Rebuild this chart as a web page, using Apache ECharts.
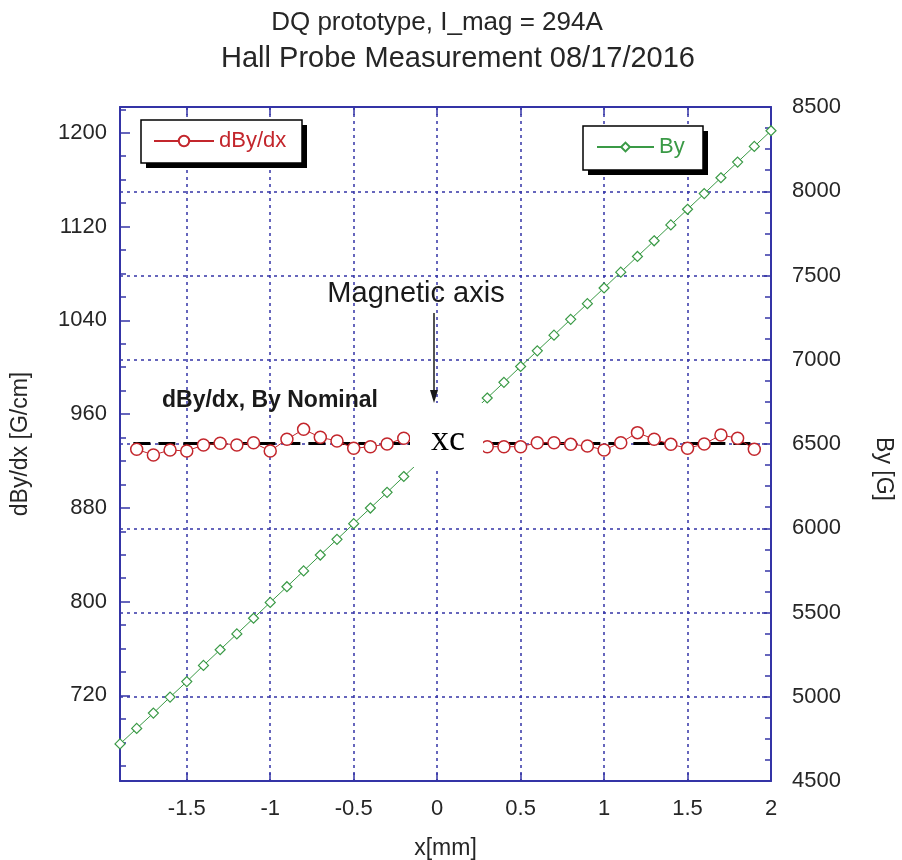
<!DOCTYPE html>
<html><head><meta charset="utf-8">
<script src="https://cdn.jsdelivr.net/npm/echarts@6/dist/echarts.min.js"></script>
<style>html,body{margin:0;padding:0;background:#fff}#c{width:902px;height:860px}</style>
</head><body><div id="c"></div>
<script>
// ---- data ----
const byX = [-1.9,-1.8,-1.7,-1.6,-1.5,-1.4,-1.3,-1.2,-1.1,-1.0,-0.9,-0.8,-0.7,-0.6,-0.5,-0.4,-0.3,-0.2,-0.1,0.0,
             0.1,0.2,0.3,0.4,0.5,0.6,0.7,0.8,0.9,1.0,1.1,1.2,1.3,1.4,1.5,1.6,1.7,1.8,1.9,2.0];
const byValues = [4720,4812,4903,4998,5090,5186,5279,5373,5466,5560,5653,5747,5841,5934,6027,6120,6213,6307,6400,6493,
                  6586,6680,6773,6866,6960,7053,7146,7240,7333,7426,7520,7613,7706,7800,7893,7986,8080,8173,8266,8359];
const dbX = [-1.8,-1.7,-1.6,-1.5,-1.4,-1.3,-1.2,-1.1,-1.0,-0.9,-0.8,-0.7,-0.6,-0.5,-0.4,-0.3,-0.2,-0.1,0.0,
             0.1,0.2,0.3,0.4,0.5,0.6,0.7,0.8,0.9,1.0,1.1,1.2,1.3,1.4,1.5,1.6,1.7,1.8,1.9];
const dbValues = [930.0,925.1,929.4,928.5,933.7,935.1,933.7,935.6,928.5,938.5,947.0,940.2,937.1,930.8,932.2,934.5,939.4,936,935,
                  934,936,932.2,932.2,932.2,935.6,935.6,934.2,932.8,929.4,935.6,944.2,938.5,934.2,930.8,934.5,942.2,939.4,930.0];
const nominalX = [-1.82, 1.92];
const nominalValue = 935;
const xTicks = [-1.5,-1,-0.5,0,0.5,1,1.5,2];
const leftTicks = [720,800,880,960,1040,1120,1200];
const leftMinorTicks = [660,680,700,720,740,760,780,800,820,840,860,880,900,920,940,960,980,1000,1020,1040,1060,1080,1100,1120,1140,1160,1180,1200,1220];

// ---- style ----
const FONT = "'Liberation Sans', Arial, sans-serif";
const AX = '#3434a6';
const RED = '#c3262c';
const GREEN = '#3a9a46';
const TXT = '#262626';

const chart = echarts.init(document.getElementById('c'), null, {renderer:'canvas'});
const axisLine = {show:true, onZero:false, lineStyle:{color:AX, width:2}};
const tickStyle = {color:AX, width:1.5};
const dotted = {show:true, lineStyle:{color:AX, width:1.5, type:[3,4]}};
const plain = v => String(v);
const lbl = {color:TXT, fontSize:22, fontFamily:FONT, formatter:plain};
const nameStyle = {color:TXT, fontSize:23, fontFamily:FONT};

chart.setOption({
  animation:false,
  backgroundColor:'#fff',
  title:[
    {text:'DQ prototype, I_mag = 294A', left:432, top:5, textAlign:'center',
     textStyle:{fontFamily:FONT, fontSize:26, fontWeight:'normal', color:TXT}},
    {text:'Hall Probe Measurement 08/17/2016', left:453, top:39, textAlign:'center',
     textStyle:{fontFamily:FONT, fontSize:29, fontWeight:'normal', color:TXT}}
  ],
  legend:[
    {data:['dBy/dx'], left:141, top:120, z:20, orient:'horizontal', itemWidth:60, itemHeight:13,
     padding:[10,14,10,12], selectedMode:false,
     textStyle:{color:RED, fontSize:22, fontFamily:FONT}},
    {data:['By'], left:583, top:126, z:20, orient:'horizontal', itemWidth:57, itemHeight:11,
     padding:[10,18,10,13], selectedMode:false,
     textStyle:{color:GREEN, fontSize:22, fontFamily:FONT}}
  ],
  grid:{left:120, right:131, top:107, bottom:79, outerBoundsMode:'none', containLabel:false},
  xAxis:[
    {type:'value', position:'bottom', min:-1.9, max:2,
     axisLine:axisLine,
     axisTick:{show:true, inside:true, length:8, customValues:xTicks, lineStyle:tickStyle},
     axisLabel:{...lbl, customValues:xTicks, margin:17},
     splitLine:dotted,
     name:'x[mm]', nameLocation:'middle', nameGap:56, nameTextStyle:nameStyle},
    {type:'value', position:'top', min:-1.9, max:2,
     axisLine:axisLine,
     axisTick:{show:true, inside:true, length:8, customValues:xTicks, lineStyle:tickStyle},
     axisLabel:{show:false}, splitLine:{show:false}}
  ],
  yAxis:[
    {type:'value', position:'left', min:647, max:1222,
     axisLine:axisLine,
     axisTick:{show:true, inside:true, length:10, customValues:leftTicks, lineStyle:tickStyle},
     axisLabel:{...lbl, customValues:leftTicks, margin:13},
     splitLine:{show:false},
     name:'dBy/dx [G/cm]', nameLocation:'middle', nameRotate:90, nameGap:88, nameTextStyle:nameStyle},
    {type:'value', position:'right', min:4500, max:8500, interval:500,
     axisLine:axisLine,
     axisTick:{show:true, inside:true, length:9, lineStyle:tickStyle},
     minorTick:{show:true, splitNumber:4, length:6, lineStyle:tickStyle},
     axisLabel:{...lbl, margin:21},
     splitLine:dotted,
     name:'By [G]', nameLocation:'middle', nameRotate:-90, nameGap:101,
     nameTextStyle:{...nameStyle, padding:[0,0,0,50]}},
    {type:'value', position:'left', min:647, max:1222,
     axisLine:{show:false, onZero:false},
     axisTick:{show:true, inside:true, length:6, customValues:leftMinorTicks, lineStyle:tickStyle},
     axisLabel:{show:false}, splitLine:{show:false}}
  ],
  series:[
    {name:'nominal', type:'line', xAxisIndex:0, yAxisIndex:0, z:1,
     data:nominalX.map(x=>[x, nominalValue]), symbol:'none',
     lineStyle:{color:'#000', width:3, type:[17,8]}, silent:true},
    {name:'dBy/dx', type:'line', xAxisIndex:0, yAxisIndex:0, z:3,
     data:dbX.map((x,i)=>[x, dbValues[i]]),
     symbol:'circle', symbolSize:12,
     itemStyle:{color:'#fff', borderColor:RED, borderWidth:1.5},
     lineStyle:{color:RED, width:1}},
    {name:'By', type:'line', xAxisIndex:0, yAxisIndex:1, z:2,
     data:byX.map((x,i)=>[x, byValues[i]]),
     symbol:'diamond', symbolSize:10,
     itemStyle:{color:'#fff', borderColor:GREEN, borderWidth:1.2},
     lineStyle:{color:GREEN, width:1}}
  ],
  graphic:[
    // legend boxes with drop shadow
    {type:'rect', z:5, shape:{x:146, y:125, width:161, height:43}, style:{fill:'#000'}},
    {type:'rect', z:6, shape:{x:141, y:120, width:161, height:43}, style:{fill:'#fff', stroke:'#000', lineWidth:1.5}},
    {type:'rect', z:5, shape:{x:588, y:131, width:120, height:44}, style:{fill:'#000'}},
    {type:'rect', z:6, shape:{x:583, y:126, width:120, height:44}, style:{fill:'#fff', stroke:'#000', lineWidth:1.5}},
    // annotations
    {type:'text', left:162, top:389, z:50,
     style:{text:'dBy/dx, By Nominal', fontFamily:FONT, fontSize:23, fontWeight:'bold', fill:'#1a1a1a'}},
    {type:'text', x:416, y:294, z:50,
     style:{text:'Magnetic axis', fontFamily:FONT, fontSize:29, fill:'#1a1a1a', align:'center', verticalAlign:'middle'}},
    {type:'line', z:50, shape:{x1:434, y1:313, x2:434, y2:392}, style:{stroke:'#1a1a1a', lineWidth:1.5}},
    {type:'polygon', z:50, shape:{points:[[430,390],[438,390],[434,403]]}, style:{fill:'#1a1a1a'}},
    {type:'rect', z:100, shape:{x:410, y:403, width:73, height:64}, style:{fill:'#fff'}},
    {type:'text', x:448, y:441, z:101,
     style:{text:'xc', fontFamily:"'Liberation Serif', 'DejaVu Serif', serif", fontSize:36, fill:'#000', align:'center', verticalAlign:'middle'}}
  ]
});
</script></body></html>
